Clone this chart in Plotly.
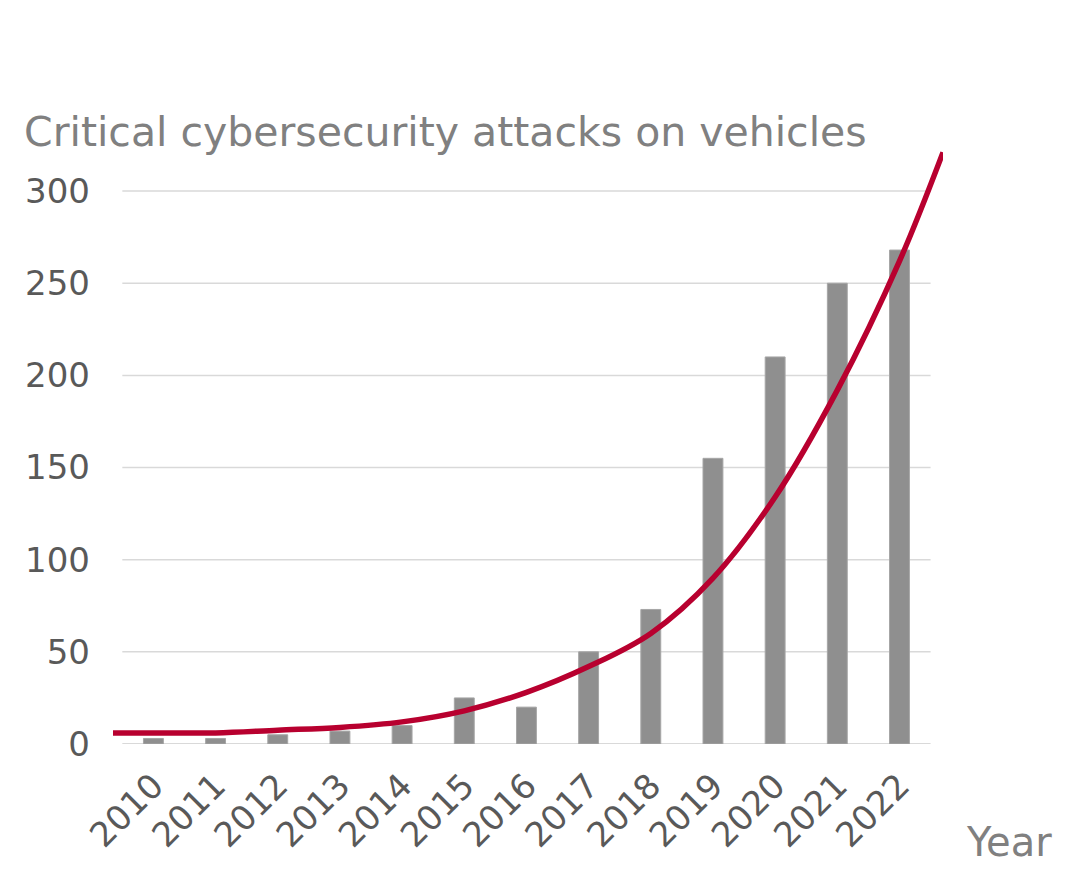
import plotly.graph_objects as go

years = [2010, 2011, 2012, 2013, 2014, 2015, 2016, 2017, 2018, 2019, 2020, 2021, 2022]
attacks = [3, 3, 5, 7, 10, 25, 20, 50, 73, 155, 210, 250, 268]

trend_x = [2009.35, 2010, 2011, 2012, 2013, 2014, 2015, 2016, 2017, 2018, 2019, 2020, 2021, 2022, 2022.7]
trend_y = [6, 6, 6, 7.5, 9, 12, 18, 28, 42, 60, 90, 134, 192, 262, 321]

y_ticks = [0, 50, 100, 150, 200, 250, 300]

FONT = "DejaVu Sans, Verdana, sans-serif"

L, R, T, B = 113, 137, 145, 147
W, H = 1080, 891
PW, PH = W - L - R, H - T - B

fig = go.Figure()
fig.add_trace(go.Bar(x=years, y=attacks, width=0.32,
                     marker=dict(color="#8f8f8f", line=dict(color="#a6a6a6", width=1)),
                     showlegend=False))
fig.add_trace(go.Scatter(x=trend_x, y=trend_y, mode="lines",
                         line=dict(color="#b8002f", width=5.5, shape="spline", smoothing=1.0),
                         showlegend=False))

for v in y_ticks:
    fig.add_shape(type="line", xref="x", yref="y", x0=years[0] - 0.5, x1=years[-1] + 0.5,
                  y0=v, y1=v, line=dict(color="#d9d9d9", width=2 if v == 0 else 1.5), layer="below")

fig.update_layout(
    width=W, height=H,
    margin=dict(l=L, r=R, t=T, b=B, autoexpand=False),
    paper_bgcolor="white", plot_bgcolor="white",
    font=dict(family=FONT, color="#595959"),
    title=dict(text="Critical cybersecurity attacks on vehicles", x=24 / W, xanchor="left",
               y=1 - 146 / H, yanchor="bottom",
               font=dict(size=41, color="#808080", family=FONT)),
    xaxis=dict(range=[2009.35, 2022.7], tickmode="array", tickvals=years,
               ticktext=[str(y) for y in years], tickangle=-45, showgrid=False,
               zeroline=False, showline=False, ticks="", automargin=False,
               ticklabelstandoff=14,
               tickfont=dict(size=34, color="#595959")),
    yaxis=dict(range=[0, 325], tickmode="array", tickvals=y_ticks, showgrid=False,
               zeroline=False, showline=False, ticks="", ticklabelstandoff=22, automargin=False,
               tickfont=dict(size=34, color="#595959")),
    annotations=[dict(text="Year", xref="paper", yref="paper", x=(1054 - L) / PW, xanchor="right",
                      y=(H - B - 842) / PH, yanchor="middle", showarrow=False,
                      font=dict(size=40, color="#808080", family=FONT))],
)

fig.write_html("out.html", config={"displayModeBar": False},
               post_script="document.body.style.margin='0';")
